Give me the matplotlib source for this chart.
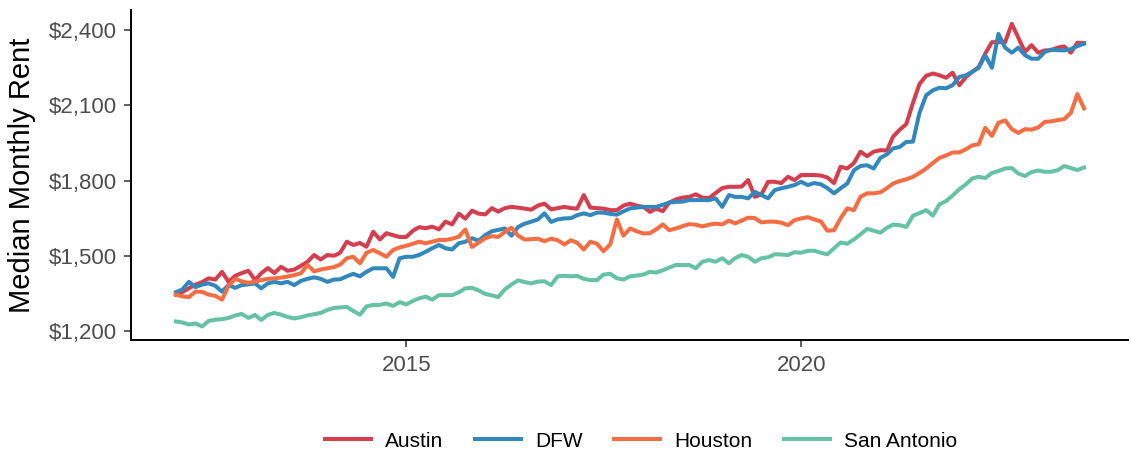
import matplotlib
import matplotlib.pyplot as plt
import matplotlib.dates as mdates
import pandas as pd

matplotlib.use("Agg")

plt.rcParams["font.family"] = ["Liberation Sans", "DejaVu Sans"]

# monthly median rent, Feb 2012 .. Aug 2023
start_month = "2012-02-01"

austin = [
    1345, 1355, 1370, 1385, 1395, 1410, 1405, 1436, 1396, 1420,
    1431, 1440, 1403, 1430, 1451, 1431, 1456, 1440, 1445, 1460, 1476, 1503,
    1485, 1503, 1500, 1512, 1556, 1543, 1551, 1536, 1596, 1565, 1590, 1582,
    1575, 1575, 1600, 1614, 1610, 1616, 1605, 1636, 1625, 1668, 1648, 1680,
    1668, 1665, 1690, 1676, 1690, 1695, 1692, 1688, 1684, 1700, 1708, 1685,
    1690, 1695, 1690, 1688, 1742, 1692, 1690, 1688, 1682, 1682, 1700, 1708,
    1700,
    1695, 1675, 1688, 1678, 1712, 1725, 1732, 1735, 1745, 1732, 1730, 1750,
    1770, 1775, 1775, 1776, 1802, 1735, 1745, 1795, 1795, 1790, 1815, 1802,
    1822, 1822, 1822, 1820, 1812, 1790, 1855, 1848, 1870, 1915, 1897, 1915,
    1921, 1920, 1975, 2003, 2025, 2110, 2185, 2218, 2227, 2220, 2210, 2230,
    2180, 2213, 2233, 2253, 2306, 2352, 2352, 2352, 2425, 2370, 2313, 2340,
    2310, 2319, 2320, 2330, 2335, 2310, 2350, 2348,
]

dfw = [
    1355, 1365, 1396, 1375, 1385, 1390, 1380, 1357, 1383, 1372,
    1383, 1386, 1390, 1370, 1390, 1396, 1390, 1396, 1383, 1400, 1408, 1414,
    1408, 1396, 1405, 1406, 1418, 1428, 1418, 1436, 1450, 1450, 1450, 1416,
    1490, 1496, 1496, 1503, 1516, 1530, 1543, 1530, 1525, 1550, 1556, 1570,
    1560, 1582, 1598, 1603, 1609, 1580, 1615, 1628, 1636, 1645, 1669, 1635,
    1645, 1649, 1650, 1662, 1669, 1662, 1672, 1672, 1667, 1664, 1677, 1689,
    1692,
    1695, 1695, 1695, 1703, 1712, 1715, 1716, 1722, 1722, 1722, 1722, 1729,
    1695, 1742, 1735, 1735, 1729, 1755, 1742, 1729, 1762, 1769, 1775, 1782,
    1795, 1782, 1790, 1785, 1770, 1749, 1769, 1788, 1841, 1858, 1861, 1848,
    1890, 1905, 1928, 1934, 1954, 1955, 2070, 2140, 2160, 2170, 2168, 2180,
    2213, 2220, 2233, 2250, 2300, 2250, 2385, 2330, 2310, 2330, 2300, 2286,
    2286, 2313, 2322, 2320, 2319, 2324, 2336, 2346,
]

houston = [
    1345, 1338, 1335, 1357, 1356, 1345, 1340, 1325, 1380, 1408,
    1398, 1392, 1397, 1403, 1408, 1410, 1413, 1417, 1423, 1430, 1463, 1438,
    1445, 1450, 1455, 1465, 1490, 1496, 1470, 1512, 1523, 1510, 1496, 1523,
    1533, 1540, 1548, 1556, 1550, 1556, 1563, 1563, 1568, 1576, 1605, 1535,
    1552, 1570, 1578, 1575, 1595, 1612, 1580, 1565, 1566, 1568, 1558, 1568,
    1562, 1545, 1562, 1552, 1525, 1556, 1548, 1518, 1545, 1645, 1580, 1609,
    1598,
    1589, 1590, 1605, 1625, 1602, 1609, 1618, 1626, 1624, 1617, 1624, 1628,
    1625, 1640, 1629, 1640, 1652, 1650, 1633, 1636, 1636, 1632, 1622, 1642,
    1649, 1654, 1645, 1637, 1600, 1602, 1649, 1689, 1682, 1735, 1749, 1749,
    1753, 1770, 1788, 1798, 1805, 1815, 1830, 1848, 1870, 1890, 1900, 1912,
    1912, 1925, 1940, 1945, 2010, 1978, 2030, 2040, 2005, 1990, 2005, 2003,
    2012, 2034, 2036, 2041, 2045, 2070, 2145, 2088,
]

san_antonio = [
    1238, 1234, 1226, 1230, 1218, 1240, 1245, 1247, 1252, 1262,
    1268, 1252, 1264, 1244, 1264, 1272, 1265, 1256, 1250, 1255, 1262, 1267,
    1272, 1284, 1292, 1294, 1296, 1280, 1265, 1298, 1304, 1304, 1310, 1300,
    1315, 1306, 1320, 1330, 1337, 1325, 1343, 1343, 1343, 1354, 1370, 1372,
    1362, 1348, 1342, 1335, 1366, 1385, 1402, 1395, 1390, 1397, 1398, 1383,
    1418, 1420, 1418, 1420, 1408, 1403, 1403, 1425, 1428, 1410, 1405, 1418,
    1421,
    1425, 1436, 1433, 1442, 1453, 1463, 1463, 1463, 1450, 1476, 1483, 1476,
    1490, 1470, 1490, 1503, 1496, 1476, 1490, 1494, 1506, 1505, 1503, 1514,
    1512, 1520, 1520, 1512, 1506, 1530, 1553, 1548, 1565, 1585, 1607, 1600,
    1592, 1612, 1624, 1622, 1615, 1660, 1670, 1682, 1660, 1705, 1718, 1740,
    1765, 1785, 1808, 1815, 1810, 1830, 1838, 1848, 1850, 1828, 1818, 1834,
    1840, 1835, 1835, 1841, 1858, 1850, 1842, 1852,
]

series = {
    "Austin": (austin, "#D53E4F"),
    "DFW": (dfw, "#3288BD"),
    "Houston": (houston, "#F46D43"),
    "San Antonio": (san_antonio, "#66C2A5"),
}

y_ticks = [1200, 1500, 1800, 2100, 2400]

dates = pd.date_range(start_month, periods=len(austin), freq="MS")

fig = plt.figure(figsize=(11.31, 4.57), dpi=100)
ax = fig.add_axes([0.1158, 0.256, 0.8815, 0.722])

for name, (vals, color) in series.items():
    ax.plot(dates, vals, color=color, lw=2.9, label=name, solid_joinstyle="round")

ax.set_xlim(pd.Timestamp("2011-07-08"), pd.Timestamp("2024-02-20"))
ax.set_ylim(1164, 2480)
ax.set_yticks(y_ticks)
ax.set_yticklabels([f"${v:,}" for v in y_ticks])
ax.set_xticks([pd.Timestamp("2015-01-01"), pd.Timestamp("2020-01-01")])
ax.xaxis.set_major_formatter(mdates.DateFormatter("%Y"))

for side in ["top", "right"]:
    ax.spines[side].set_visible(False)
for side in ["left", "bottom"]:
    ax.spines[side].set_linewidth(1.4)
    ax.spines[side].set_color("black")

ax.tick_params(axis="both", length=5, width=1.1, color="#333333",
               labelsize=16, labelcolor="#4D4D4D")
ax.tick_params(axis="y", pad=5)
ax.tick_params(axis="x", pad=6)
ax.set_ylabel("Median Monthly Rent", fontsize=21, color="black", labelpad=9)

fig.legend(loc="center", bbox_to_anchor=(0.567, 0.035), ncol=4, frameon=False,
           fontsize=15, handlelength=2.2, columnspacing=1.5, handletextpad=0.7)

fig.savefig("out.png", dpi=100)
